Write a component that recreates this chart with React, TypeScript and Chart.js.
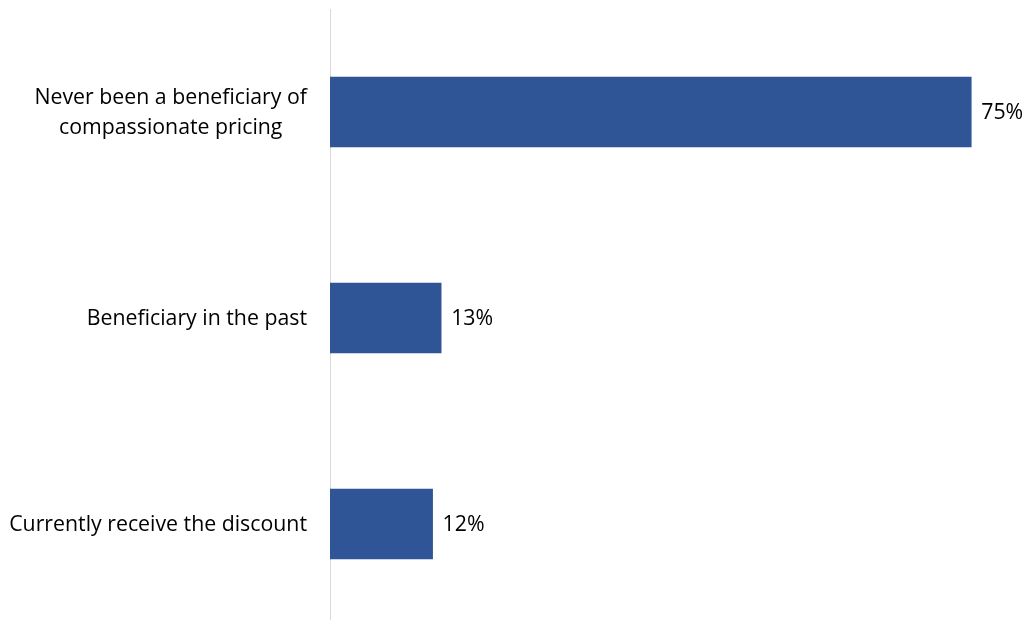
import React, { useEffect, useRef } from "react";
import { Chart, registerables } from "chart.js";

Chart.register(...registerables);

const categories: string[][] = [
  ["Never been a beneficiary of", "compassionate pricing"],
  ["Beneficiary in the past"],
  ["Currently receive the discount"],
];
const values: number[] = [75, 13, 12];
const valueLabels: string[] = ["75%", "13%", "12%"];

const FONT = "'Open Sans', Lato, sans-serif";
const FONT_SIZE = 21.3;
const LINE_HEIGHT = 30;
const BAR_COLOR = "#2F5597";

const labelPlugin = {
  id: "customLabels",
  afterDatasetsDraw(chart: any) {
    const ctx = chart.ctx;
    const meta = chart.getDatasetMeta(0);
    const yScale = chart.scales.y;
    ctx.save();
    ctx.font = `${FONT_SIZE}px ${FONT}`;
    ctx.fillStyle = "#000000";
    ctx.textBaseline = "middle";
    // value labels
    ctx.textAlign = "left";
    meta.data.forEach((bar: any, i: number) => {
      ctx.fillText(valueLabels[i], bar.x + 10, bar.y + 1);
    });
    // category labels: block right-aligned, lines centered within block
    const rightEdge = chart.chartArea.left - 23;
    ctx.textAlign = "center";
    categories.forEach((lines, i) => {
      const yc = yScale.getPixelForValue(i) + 1;
      const w = Math.max(...lines.map((l) => ctx.measureText(l).width));
      const xc = rightEdge - w / 2;
      const y0 = yc - ((lines.length - 1) * LINE_HEIGHT) / 2;
      lines.forEach((l, j) => ctx.fillText(l, xc, y0 + j * LINE_HEIGHT));
    });
    ctx.restore();
  },
};

export default function App() {
  const ref = useRef<HTMLCanvasElement | null>(null);
  useEffect(() => {
    document.body.style.margin = "0";
    const chart = new Chart(ref.current!, {
      type: "bar",
      data: {
        labels: categories.map((c) => c.join(" ")),
        datasets: [
          {
            data: values,
            backgroundColor: BAR_COLOR,
            barThickness: 70,
          },
        ],
      },
      options: {
        indexAxis: "y",
        animation: false,
        responsive: false,
        maintainAspectRatio: false,
        layout: { padding: { top: 9, right: 13, left: 0, bottom: 0 } },
        plugins: {
          legend: { display: false },
          tooltip: { enabled: false },
        },
        scales: {
          x: {
            display: false,
            min: 0,
            max: 80,
          },
          y: {
            afterFit(scale: any) {
              scale.width = 330;
              scale.paddingTop = 0;
              scale.paddingBottom = 0;
            },
            grid: { display: true, drawOnChartArea: false, drawTicks: false },
            border: { display: true, color: "#D9D9D9", width: 1 },
            ticks: { display: false },
          },
        },
      },
      plugins: [labelPlugin],
    });
    return () => chart.destroy();
  }, []);
  return (
    <div
      style={{
        position: "fixed",
        left: 0,
        top: 0,
        width: 1027,
        height: 620,
        overflow: "hidden",
        background: "#ffffff",
      }}
    >
      <canvas ref={ref} width={1027} height={627} />
    </div>
  );
}
